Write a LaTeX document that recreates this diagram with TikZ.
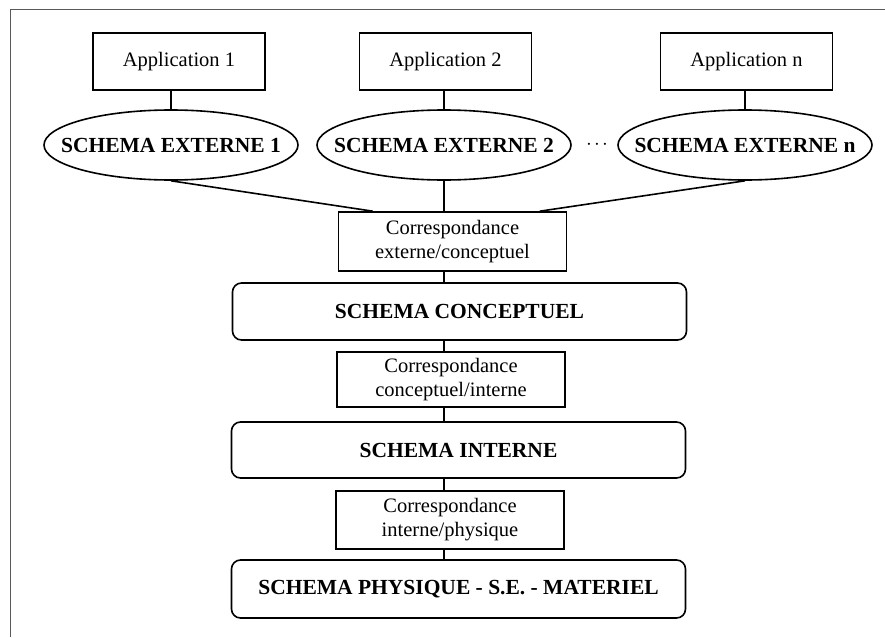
\documentclass[tikz,border=0pt]{standalone}
\usepackage{fontspec}
\setmainfont{Liberation Serif}
\usetikzlibrary{shapes.geometric,calc}
\begin{document}
\begin{tikzpicture}[x=1pt,y=-1pt,
  every node/.style={font=\fontsize{20.5}{24}\selectfont, line width=1.6pt, inner sep=0pt, align=center},
  appbox/.style={draw, rectangle, minimum width=172pt, minimum height=57pt},
  extell/.style={draw, ellipse, minimum width=254pt, minimum height=70pt},
  boldlab/.style={font=\fontsize{21.5}{24}\selectfont\bfseries},
  corrbox/.style={draw, rectangle, minimum width=228pt, minimum height=57pt},
  schbox/.style={draw, rectangle, rounded corners=9pt, minimum width=454pt, minimum height=57pt, font=\fontsize{21.5}{24}\selectfont\bfseries},
  conn/.style={line width=1.6pt}]
\useasboundingbox (0,0) rectangle (885,637);
\draw[line width=1.6pt, black!65] (10.5,637) -- (10.5,9.5) -- (885,9.5);

\node[appbox] (app1) at (179,61.5) {Application 1};
\node[appbox] (app2) at (445.5,61.5) {Application 2};
\node[appbox] (appn) at (746.5,61.5) {Application n};

\node[extell, label={[boldlab]center:SCHEMA EXTERNE 1}] (e1) at (171,145) {};
\node[extell, label={[boldlab]center:SCHEMA EXTERNE 2}] (e2) at (444,145) {};
\node[extell, label={[boldlab]center:SCHEMA EXTERNE n}] (en) at (745,145) {};
\node (dots) at (597,145) {$\cdot\mkern-2mu\cdot\mkern-2mu\cdot$};

\node[corrbox, minimum height=59pt] (c1) at (452.5,241.5) {Correspondance\\externe/conceptuel};
\node[schbox] (sc) at (459.5,311.5) {SCHEMA CONCEPTUEL};
\node[corrbox, minimum height=55pt] (c2) at (451,379.5) {Correspondance\\conceptuel/interne};
\node[schbox, minimum height=56pt] (si) at (458.5,450) {SCHEMA INTERNE};
\node[corrbox, minimum height=58pt] (c3) at (450,520) {Correspondance\\interne/physique};
\node[schbox, minimum height=58pt] (sp) at (458.5,589) {SCHEMA PHYSIQUE - S.E. - MATERIEL};

\draw[conn] (e1.north) -- (e1.north |- app1.south);
\draw[conn] (e2.north) -- (e2.north |- app2.south);
\draw[conn] (en.north) -- (en.north |- appn.south);

\draw[conn] (e1.south) -- ($(c1.north west)!0.153!(c1.north east)$);
\draw[conn] (en.south) -- ($(c1.north west)!0.88!(c1.north east)$);
\draw[conn] (e2.south) -- (e2.south |- c1.north);
\draw[conn] (c1.south -| e2.south) -- (sc.north -| e2.south);
\draw[conn] (sc.south -| e2.south) -- (c2.north -| e2.south);
\draw[conn] (c2.south -| e2.south) -- (si.north -| e2.south);
\draw[conn] (si.south -| e2.south) -- (c3.north -| e2.south);
\draw[conn] (c3.south -| e2.south) -- (sp.north -| e2.south);
\end{tikzpicture}
\end{document}
